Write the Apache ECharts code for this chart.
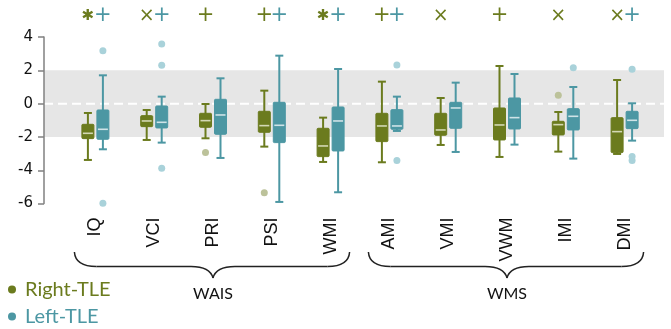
<!DOCTYPE html>
<html><head><meta charset="utf-8">
<script src="https://cdn.jsdelivr.net/npm/echarts@6/dist/echarts.min.js"></script>
<style>html,body{margin:0;padding:0;background:#fff}#c{width:671px;height:329px}</style>
</head><body><div id="c"></div><script>
const categories = ['IQ','VCI','PRI','PSI','WMI','AMI','VMI','VWM','IMI','DMI'];
// each box: [lower whisker, Q1, median, Q3, upper whisker]
const rightBoxes = [
  [-3.38,-2.10,-1.78,-1.24,-0.56],
  [-2.18,-1.38,-1.04,-0.72,-0.38],
  [-2.08,-1.42,-1.02,-0.58,-0.02],
  [-2.58,-1.72,-1.32,-0.46,0.78],
  [-3.50,-3.18,-2.54,-1.48,-0.84],
  [-3.52,-2.28,-1.34,-0.58,1.32],
  [-2.48,-1.90,-1.58,-0.58,0.34],
  [-3.20,-2.18,-1.28,-0.26,2.26],
  [-2.88,-1.88,-1.26,-1.06,-0.50],
  [-3.02,-2.94,-1.68,-0.84,1.42]
];
const leftBoxes = [
  [-2.74,-2.14,-1.54,-0.38,1.70],
  [-2.34,-1.46,-1.12,-0.14,0.42],
  [-3.26,-1.84,-0.68,0.26,1.52],
  [-5.90,-2.34,-1.30,0.08,2.88],
  [-5.32,-2.84,-1.04,-0.20,2.08],
  [-1.64,-1.54,-1.34,-0.36,0.42],
  [-2.90,-1.48,-0.26,0.08,1.26],
  [-2.46,-1.52,-0.84,0.34,1.78],
  [-3.30,-1.58,-0.76,-0.30,1.00],
  [-2.22,-1.50,-1.00,-0.46,0.02]
];
const rightOutliers = [[2,-2.94],[3,-5.35],[8,0.50]];
const leftOutliers = [[0,3.17],[0,-5.98],[1,3.58],[1,2.30],[1,-3.88],[5,2.32],[5,-3.42],[8,2.16],[9,2.06],[9,-3.18],[9,-3.42]];
const rightMarks = ['✱','×','+','+','✱','+','×','+','×','×'];
const leftMarks  = ['+','+','','+','+','+','','','','+'];
const groups = [{name:'WAIS', from:0, to:4},{name:'WMS', from:5, to:9}];
const yMin = -6, yMax = 4, yStep = 2;
const bandLow = -2, bandHigh = 2, refLine = 0;

const OLIVE = '#6b7b1e', TEAL = '#4c97a3';
const OLIVE_LIGHT = '#bcc29a', TEAL_LIGHT = '#a9d2da';
const OFF = 7.5;

function boxRenderer(color, medColor, dir) {
  return function (params, api) {
    const i = api.value(0);
    const x = api.coord([i, 0])[0] + dir * OFF;
    const yLo = api.coord([i, api.value(1)])[1];
    const yQ1 = api.coord([i, api.value(2)])[1];
    const yMed = api.coord([i, api.value(3)])[1];
    const yQ3 = api.coord([i, api.value(4)])[1];
    const yHi = api.coord([i, api.value(5)])[1];
    const ls = {stroke: color, lineWidth: 2};
    return {type: 'group', children: [
      {type:'line', shape:{x1:x,y1:yHi,x2:x,y2:yLo}, style:ls},
      {type:'line', shape:{x1:x-4,y1:yHi,x2:x+4,y2:yHi}, style:ls},
      {type:'line', shape:{x1:x-4,y1:yLo,x2:x+4,y2:yLo}, style:ls},
      {type:'rect', shape:{x:x-6,y:yQ3,width:12,height:yQ1-yQ3,r:1}, style:{fill:color, stroke:color, lineWidth:1}},
      {type:'line', shape:{x1:x-5,y1:yMed,x2:x+5,y2:yMed}, style:{stroke:medColor, lineWidth:1.6}}
    ]};
  };
}
function markRenderer(marks, color, dir) {
  return function (params, api) {
    const i = api.value(0);
    const t = marks[i];
    if (!t) return null;
    const x = api.coord([i, 0])[0] + dir * OFF;
    const y = api.coord([i, yMax])[1] - 21;
    const star = t === '✱';
    return {type:'text', x: x, y: y, style:{text:t, fill:color, align:'center', verticalAlign:'middle',
      font: star ? 'bold 15px "DejaVu Sans"' : (t === '×' ? '19px "DejaVu Sans"' : '21px "DejaVu Sans"')}};
  };
}

const chart = echarts.init(document.getElementById('c'), null, {renderer:'canvas'});
const option = {
  animation: false,
  backgroundColor: '#fff',
  grid: {left: 66, right: 17, top: 37, bottom: 125.4},
  legend: {
    orient: 'vertical', left: 8, top: 279, padding: 0, itemGap: 6,
    itemWidth: 8, itemHeight: 8, icon: 'circle',
    textStyle: {fontFamily: 'Lato', fontSize: 20, lineHeight: 21, padding: [0,0,0,4]},
    data: [
      {name:'Right-TLE', textStyle:{color: OLIVE}},
      {name:'Left-TLE', textStyle:{color: TEAL}}
    ]
  },
  xAxis: {
    type: 'category', data: categories,
    axisLine: {show:false}, axisTick: {show:false}, splitLine:{show:false},
    axisLabel: {rotate: 90, margin: 14, color: '#111', fontFamily: 'Liberation Sans', fontSize: 18, interval: 0}
  },
  yAxis: {
    type: 'value', min: yMin, max: yMax, interval: yStep, offset: 22,
    splitLine: {show:false},
    axisLine: {show:true, lineStyle:{color:'#808080', width:1.5}},
    axisTick: {show:true, length:6, lineStyle:{color:'#808080', width:1.5}},
    axisLabel: {color:'#111', fontFamily:'DejaVu Sans', fontSize: 15, margin: 11}
  },
  series: [
    {name:'Right-TLE', type:'custom', itemStyle:{color: OLIVE}, renderItem: boxRenderer(OLIVE, '#d3d8b4', -1),
      data: rightBoxes.map((b,i)=>[i].concat(b)), encode:{x:0, y:[1,2,3,4,5]}, z: 3},
    {name:'Left-TLE', type:'custom', itemStyle:{color: TEAL}, renderItem: boxRenderer(TEAL, '#cfe3e7', 1),
      data: leftBoxes.map((b,i)=>[i].concat(b)), encode:{x:0, y:[1,2,3,4,5]}, z: 3},
    {name:'Right outliers', type:'scatter', symbolSize: 7, symbolOffset:[-OFF,0], itemStyle:{color: OLIVE_LIGHT, opacity:1},
      data: rightOutliers, z: 4, clip: false},
    {name:'Left outliers', type:'scatter', symbolSize: 7, symbolOffset:[OFF,0], itemStyle:{color: TEAL_LIGHT, opacity:1},
      data: leftOutliers, z: 4, clip: false},
    {name:'Right marks', type:'custom', renderItem: markRenderer(rightMarks, OLIVE, -1),
      data: categories.map((c,i)=>[i, yMax]), encode:{x:0,y:1}, clip:false, z: 5},
    {name:'Left marks', type:'custom', renderItem: markRenderer(leftMarks, TEAL, 1),
      data: categories.map((c,i)=>[i, yMax]), encode:{x:0,y:1}, clip:false, z: 5}
  ]
};
chart.setOption(option);

// decorations: reference band, zero line, group braces
const px = (i, v) => chart.convertToPixel({xAxisIndex:0, yAxisIndex:0}, [i, v]);
const bandTop = px(0, bandHigh)[1], bandBot = px(0, bandLow)[1], zeroY = px(0, refLine)[1];
const xStart = 44, xEnd = 664;
const gfx = [
  {type:'rect', z:-10, shape:{x:xStart, y:bandTop, width:xEnd-xStart, height:bandBot-bandTop}, style:{fill:'#e6e6e6'}},
  {type:'line', z:-9, shape:{x1:xStart, y1:zeroY, x2:xEnd, y2:zeroY}, style:{stroke:'#fff', lineWidth:2, lineDash:[9,5]}}
];
const braceStyle = {stroke:'#222', lineWidth:1.5, fill:null};
const curve = (x1,y1,cx,cy,x2,y2) => ({type:'bezierCurve', shape:{x1:x1,y1:y1,cpx1:cx,cpy1:cy,x2:x2,y2:y2}, style:braceStyle});
const seg = (x1,y1,x2,y2) => ({type:'line', shape:{x1:x1,y1:y1,x2:x2,y2:y2}, style:braceStyle});
groups.forEach(g => {
  const a = px(g.from, 0)[0], b = px(g.to, 0)[0];
  const x1 = a - 21, x2 = b + 19, xm = (a + b) / 2;
  const yT = 252, yM = 266.5, yTip = 278;
  gfx.push(curve(x1, yT, x1 + 1, yM, x1 + 22, yM));
  gfx.push(seg(x1 + 22, yM, xm - 22, yM));
  gfx.push(curve(xm - 22, yM, xm - 3, yM, xm, yTip));
  gfx.push(curve(xm, yTip, xm + 3, yM, xm + 22, yM));
  gfx.push(seg(xm + 22, yM, x2 - 22, yM));
  gfx.push(curve(x2 - 22, yM, x2 - 1, yM, x2, yT));
  gfx.push({type:'text', x: xm, y: 294, style:{text:g.name, fill:'#111', font:'16px Lato', align:'center', verticalAlign:'middle'}});
});
chart.setOption({graphic: {elements: gfx}});
</script></body></html>
